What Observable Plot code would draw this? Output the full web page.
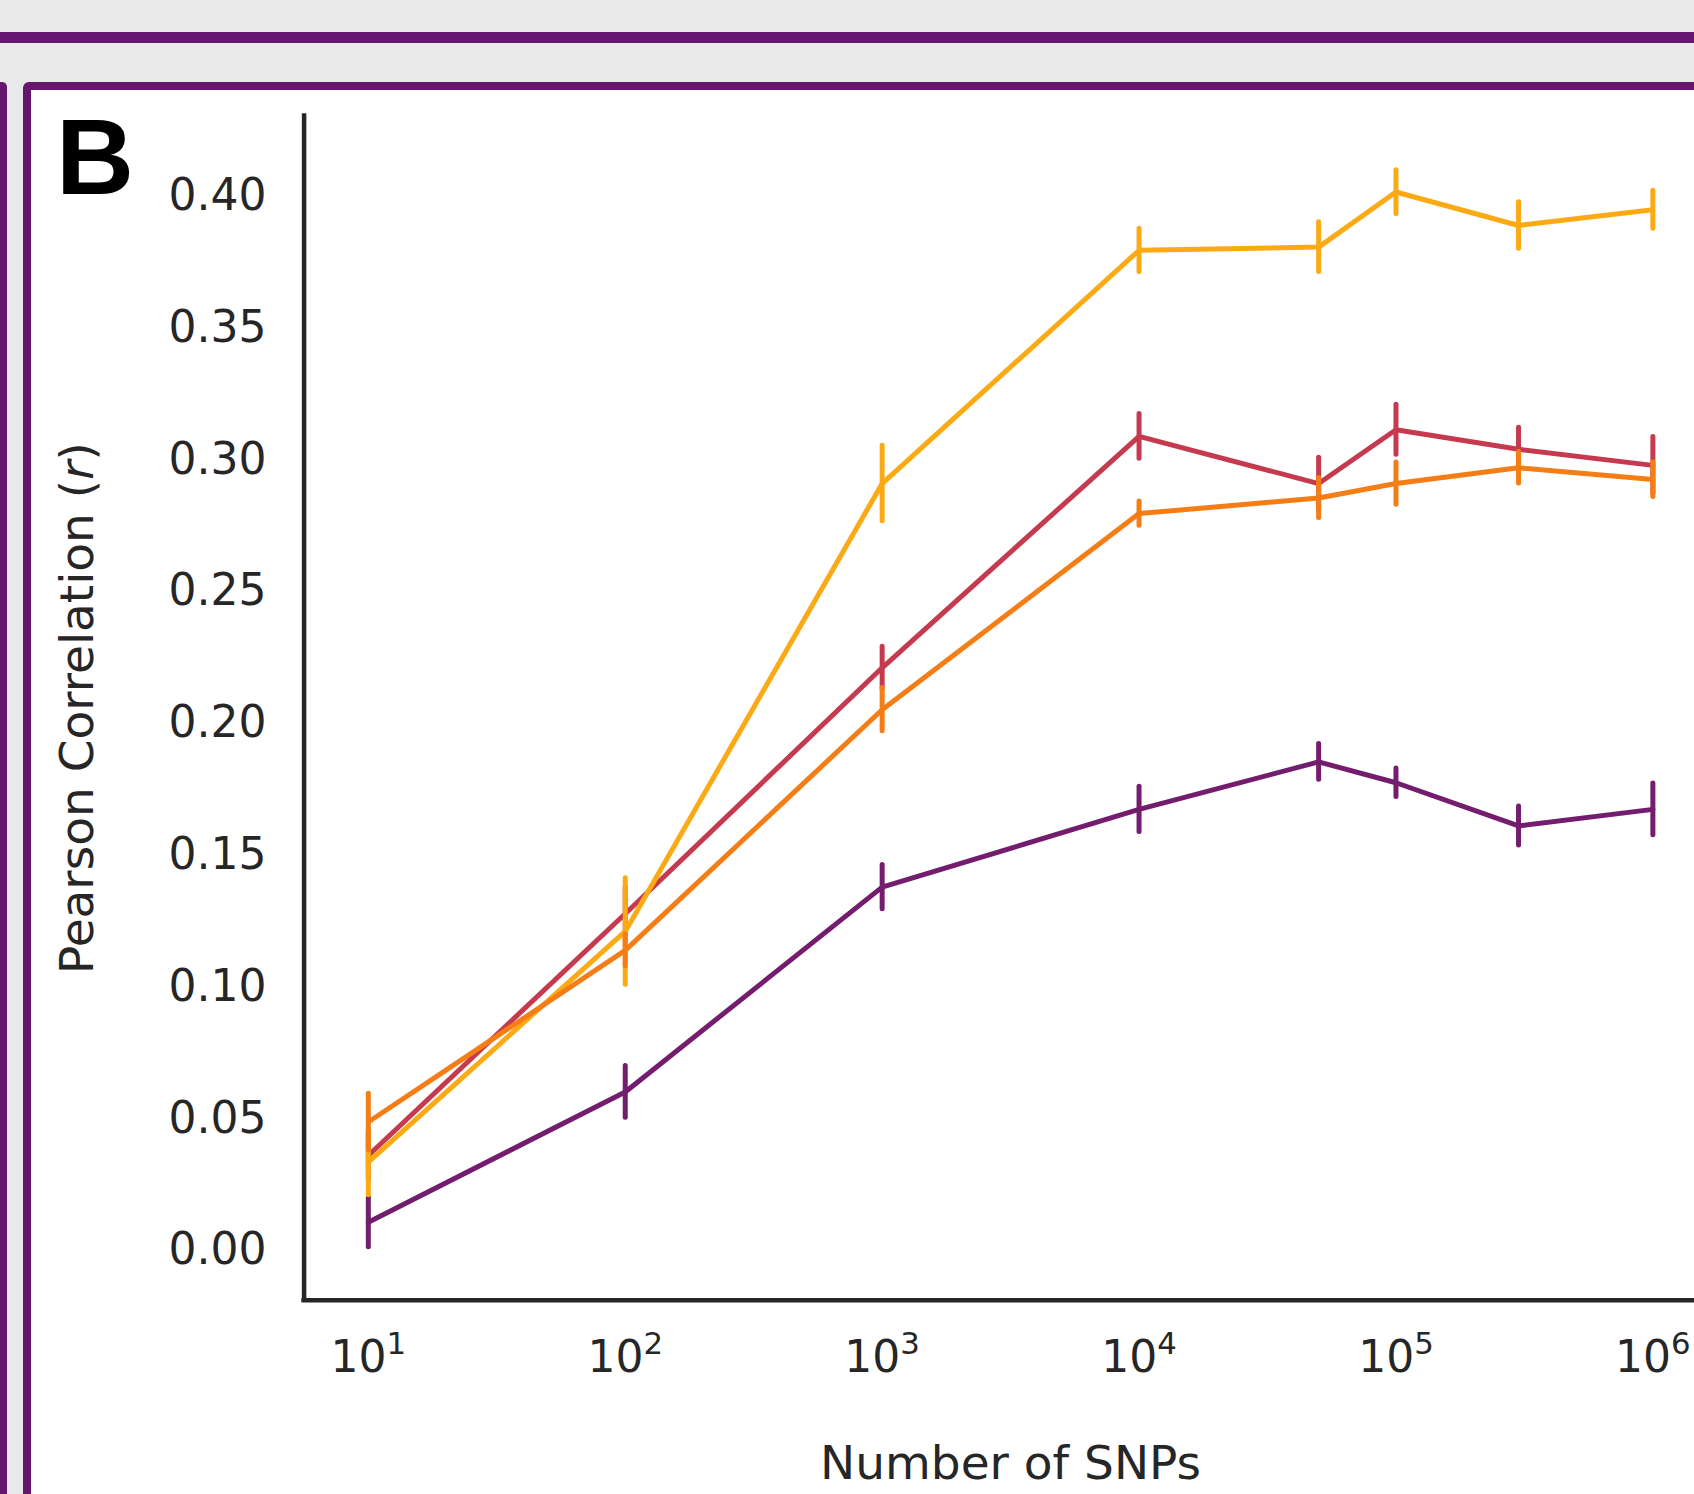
<!DOCTYPE html>
<html>
<head>
<meta charset="utf-8">
<script src="https://cdn.jsdelivr.net/npm/d3@7"></script>
<script src="https://cdn.jsdelivr.net/npm/@observablehq/plot@0.6"></script>
<style>
  html, body { margin: 0; padding: 0; width: 1694px; height: 1494px; overflow: hidden; background: #e9e9e9; font-family: "DejaVu Sans", sans-serif; }
  #topbar { position: absolute; left: 0; top: 32px; width: 1694px; height: 11px; background: #66166e; }
  #leftstrip { position: absolute; left: -30px; top: 82px; width: 37px; height: 1500px; background: #66166e; border-radius: 5px; }
  #panel { position: absolute; left: 23px; top: 82px; width: 1760px; height: 1500px; border: 8px solid #66166e; border-radius: 6px; background: #fff; box-sizing: border-box; }
  #letter { position: absolute; left: 56px; top: 103px; font: bold 108px "Liberation Sans", Arial, sans-serif; line-height: 108px; color: #000; }
  #chart { position: absolute; left: 0; top: 0; width: 1720px; height: 1494px; }
</style>
</head>
<body>
<div id="topbar"></div>
<div id="leftstrip"></div>
<div id="panel"></div>
<div id="chart"></div>
<div id="letter">B</div>
<script>
// ---- data ----
const snps = [10, 100, 1000, 10000, 50000, 100000, 300000, 1000000];

const purpleR   = [0.0107, 0.0601, 0.1378, 0.1673, 0.1853, 0.1774, 0.1610, 0.1673];
const purpleErr = [0.0095, 0.0098, 0.0084, 0.0086, 0.0068, 0.0054, 0.0074, 0.0098];

const redR   = [0.0360, 0.1277, 0.2210, 0.3088, 0.2909, 0.3113, 0.3039, 0.2978];
const redErr = [0.0090, 0.0100, 0.0080, 0.0085, 0.0098, 0.0095, 0.0082, 0.0108];

const yellowR   = [0.0335, 0.1210, 0.2909, 0.3794, 0.3806, 0.4015, 0.3888, 0.3948];
const yellowErr = [0.0126, 0.0202, 0.0143, 0.0082, 0.0094, 0.0083, 0.0088, 0.0072];

const orangeR   = [0.0487, 0.1138, 0.2051, 0.2795, 0.2854, 0.2909, 0.2969, 0.2924];
const orangeErr = [0.0107, 0.0060, 0.0082, 0.0046, 0.0076, 0.0080, 0.0060, 0.0066];

const seriesNames  = ["Series 1", "Series 2", "Series 3", "Series 4"];
const seriesColors = ["#741c6d", "#c53a4e", "#fcaa14", "#f57d15"];

const yTicks = [0, 0.05, 0.10, 0.15, 0.20, 0.25, 0.30, 0.35, 0.40];
const xTicks = [1e1, 1e2, 1e3, 1e4, 1e5, 1e6];
const xLabel = ["Number of SNPs"];
const yLabel = ["Pearson Correlation (r)"];

// ---- build table ----
const seriesValues = [[purpleR, purpleErr], [redR, redErr], [yellowR, yellowErr], [orangeR, orangeErr]];
const rows = [];
seriesValues.forEach(([r, e], s) => {
  snps.forEach((n, i) => rows.push({series: seriesNames[s], n, r: r[i], lo: r[i] - e[i], hi: r[i] + e[i]}));
});

const W = 1720, H = 1494;
const xDomain = [Math.pow(10, 0.75), Math.pow(10, 6.25)];
const yDomain = [-0.0189, 0.4303];
const axisColor = "#262626";
const lw = 5;

const marks = [];
seriesNames.forEach((name, s) => {
  const d = rows.filter(r => r.series === name);
  marks.push(Plot.line(d, {x: "n", y: "r", stroke: seriesColors[s], strokeWidth: lw, strokeLinejoin: "round", strokeLinecap: "round"}));
  marks.push(Plot.ruleX(d, {x: "n", y1: "lo", y2: "hi", stroke: seriesColors[s], strokeWidth: lw, strokeLinecap: "round"}));
});

const chart = Plot.plot({
  width: W,
  height: H,
  marginLeft: 303.6,
  marginRight: 3.4,
  marginTop: 115.6,
  marginBottom: 194.3,
  style: {background: "transparent", maxWidth: "none", overflow: "visible", fontFamily: "DejaVu Sans"},
  x: {type: "log", domain: xDomain},
  y: {domain: yDomain},
  marks: [
    ...marks,
    Plot.ruleX([xDomain[0]], {stroke: axisColor, strokeWidth: 4.5, strokeLinecap: "square"}),
    Plot.ruleY([yDomain[0]], {stroke: axisColor, strokeWidth: 4.5, strokeLinecap: "square"}),
    Plot.axisY({ticks: yTicks, tickFormat: d3.format(".2f"), tickSize: 0, tickPadding: 37.6, fontSize: 44, color: axisColor, label: null}),
    Plot.axisX({ticks: xTicks, tickFormat: d => "10^" + Math.round(Math.log10(d)), tickSize: 0, tickPadding: 40.8, fontSize: 44, color: axisColor, label: null}),
    Plot.text(yLabel, {text: d => d, frameAnchor: "left", dx: 77 - 303.6, rotate: -90, fontSize: 47, fill: axisColor, textAnchor: "middle", lineAnchor: "middle", ariaLabel: () => "y-label"}),
    Plot.text(xLabel, {text: d => d, frameAnchor: "bottom", lineAnchor: "top", dy: 145.9, fontSize: 47, fill: axisColor})
  ]
});

document.getElementById("chart").appendChild(chart);

// superscript exponents on the x tick labels
const NS = "http://www.w3.org/2000/svg";
chart.querySelectorAll('g[aria-label="x-axis tick label"] text').forEach(t => {
  const s = t.textContent;
  if (!s.includes("^")) return;
  const [base, exp] = s.split("^");
  t.textContent = "";
  const t1 = document.createElementNS(NS, "tspan");
  t1.textContent = base;
  const t2 = document.createElementNS(NS, "tspan");
  t2.setAttribute("dy", "-18.7");
  t2.setAttribute("font-size", "30.8");
  t2.textContent = exp;
  t.appendChild(t1);
  t.appendChild(t2);
});

// italic r in y label
chart.querySelectorAll('text').forEach(t => {
  const s = t.textContent;
  if (s !== yLabel[0]) return;
  const i = s.lastIndexOf("r)");
  t.textContent = "";
  const a = document.createElementNS(NS, "tspan"); a.textContent = s.slice(0, i);
  const b = document.createElementNS(NS, "tspan"); b.setAttribute("font-style", "italic"); b.textContent = "r";
  const c = document.createElementNS(NS, "tspan"); c.textContent = ")";
  t.appendChild(a); t.appendChild(b); t.appendChild(c);
});
</script>
</body>
</html>
